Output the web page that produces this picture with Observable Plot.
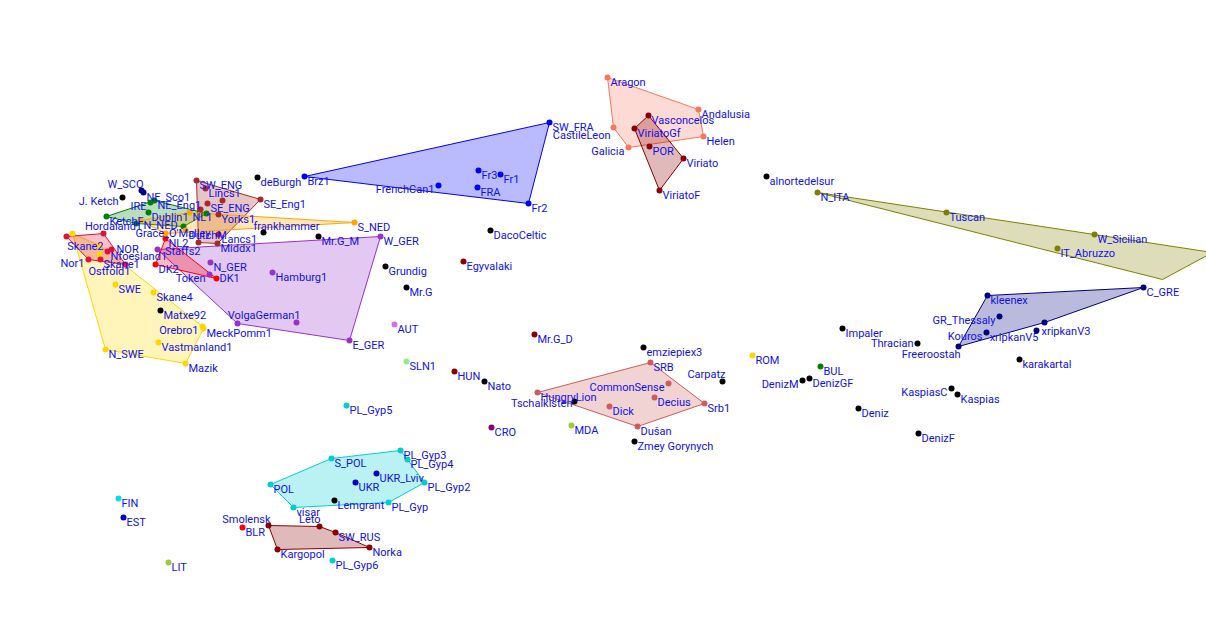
<!DOCTYPE html>
<html><head><meta charset="utf-8">
<script src="https://cdn.jsdelivr.net/npm/d3@7"></script>
<script src="https://cdn.jsdelivr.net/npm/@observablehq/plot@0.6"></script>
<style>html,body{margin:0;padding:0;background:#fff;overflow:hidden}</style>
</head><body><div id="chart"></div>
<script>
// Each row: [sample name, PC1, PC2] (units x1000). "" = unlabeled sample, null = hidden sample (hull only)
const spain = [["Aragon",7,243],["Andalusia",98,211],["Helen",103,184],["Galicia",28,173],["CastileLeon",13,193]];
const portugal = [["Vasconcelos",48,205],["ViriatoGf",34,192],["POR",49,174],["Viriato",83,162],["ViriatoF",59,130]];
const france = [["SW_FRA",-51,198],["Brz1",-296,144],["FrenchCan1",-162,135],["Fr3",-122,150],["Fr1",-100,146],["FRA",-123,133],["Fr2",-72,117]];
const italy = [["N_ITA",217,128],["Tuscan",346,108],["W_Sicilian",494,86],["IT_Abruzzo",457,72],[null,612,68],[null,562,41]];
const greece = [["kleenex",387,25],["C_GRE",543,33],["GR_Thessaly",399,4],["Kouros",386,-12],["xripkanV5",444,-2],["Freeroostah",358,-26]];
const serbia = [["SRB",50,-42],["CommonSense",68,-63],["Decius",54,-77],["Srb1",104,-83],["Dick",9,-86],["Dušan",37,-106],["HungryLion",-63,-72]];
const poland = [["PL_Gyp3",-200,-130],["PL_Gyp4",-193,-139],["PL_Gyp2",-176,-162],["PL_Gyp",-212,-182],["visar",-307,-187],["POL",-330,-164],["S_POL",-269,-138]];
const russia = [["Smolensk",-332,-205],["Leto",-281,-206],["SW_RUS",-265,-212],["Norka",-231,-227],["Kargopol",-323,-229]];
const germany = [["W_GER",-220,84],["E_GER",-251,-20],["Hamburg1",-328,48],["N_GER",-390,58],["Token",-391,46],["VolgaGerman1",-304,-2],["",-363,-3],["",-443,71]];
const sweden = [["",-528,87],["Skane2",-501,75],["",-501,66],["SWE",-485,36],["Skane4",-447,28],["Orebro1",-398,-6],["MeckPomm1",-397,-8],["Vastmanland1",-442,-22],["N_SWE",-495,-29],["Mazik",-415,-43]];
const norway = [["",-534,84],["Hordaland1",-497,87],["NOR",-489,71],["Nfoesland1",-493,69],["Nor1",-512,61],["Skane1",-500,61],["Ostfold1",-475,56]];
const denmark = [["NL2",-435,82],["DK2",-445,56],["DK1",-384,42]];
const england = [["SW_ENG",-404,140],["Lincs1",-395,132],["SE_ENG",-393,117],["",-378,120],["SE_Eng1",-340,121],["Yorks1",-382,106],["",-400,111],["Lancs1",-382,86],["Middx1",-383,77],["Staffs2",-402,78]];
const ireland = [["KetchF",-494,104],["IRE",-450,118],["NE_Eng1",-446,120],["Dublin1",-452,108],["Grace_O'Malley",-464,97],["",-394,107],["",-417,94]];
const netherlands = [["S_NED",-246,98],["NL1",-411,108],["N_NED",-460,100],["DutchM",-415,90],["",-435,87]];
const scotland = [["W_SCO",-459,130],["NE_Sco1",-457,128]];
const individuals = [["alnortedelsur",166,144],["Impaler",242,-8],["Thracian",317,-23],["karakartal",419,-39],["KaspiasC",351,-68],["Kaspias",357,-74],
  ["DenizM",202,-60],["DenizGF",209,-58],["Deniz",258,-88],["DenizF",318,-113],["Carpatz",122,-61],["emziepiex3",43,-27],["Zmey Gorynych",34,-121],
  ["Tschaikisten",-26,-81],["Nato",-116,-61],["DacoCeltic",-110,90],["Grundig",-215,54],["Mr.G",-194,33],["Mr.G_M",-282,84],["frankhammer",-337,88],
  ["deBurgh",-343,143],["J. Ketch",-478,123],["Matxe92",-440,10],["Lemgrant",-266,-180]];
const singles = [["BUL",220,-46,"green"],["ROM",152,-35,"gold"],["SLN1",-194,-41,"lightgreen"],["AUT",-206,-4,"orchid"],["CRO",-109,-107,"purple"],
  ["MDA",-29,-105,"yellowgreen"],["LIT",-432,-242,"yellowgreen"],["FIN",-482,-178,"#00e0f0"],["EST",-477,-197,"mediumblue"],["BLR",-358,-207,"red"],
  ["HUN",-146,-51,"darkred"],["Mr.G_D",-66,-14,"darkred"],["Egyvalaki",-137,59,"darkred"],["PL_Gyp5",-254,-85,"darkturquoise"],["PL_Gyp6",-268,-240,"darkturquoise"],
  ["UKR",-245,-162,"mediumblue"],["UKR_Lviv",-224,-153,"mediumblue"],["xripkanV3",436,-10,"navy"]];

// group styles
const groupStyle = [
  ["spain", spain, "#f7775e", true], ["portugal", portugal, "darkred", true], ["france", france, "blue", true],
  ["italy", italy, "olive", true], ["greece", greece, "navy", true], ["serbia", serbia, "indianred", true],
  ["poland", poland, "darkturquoise", true], ["russia", russia, "darkred", true], ["germany", germany, "darkorchid", true],
  ["sweden", sweden, "gold", true], ["norway", norway, "crimson", true], ["denmark", denmark, "red", true],
  ["england", england, "brown", true], ["ireland", ireland, "green", true], ["netherlands", netherlands, "orange", true],
  ["scotland", scotland, "navy", false], ["individuals", individuals, "black", false]
];

const points = [];
for (const [g, rows, color, hull] of groupStyle)
  for (const [name, pc1, pc2] of rows) points.push({name, group: g, pc1, pc2, color, hull});
for (const [name, pc1, pc2, color] of singles) points.push({name, group: name, pc1, pc2, color, hull: false});

// label placement styles: [dx, dy, textAnchor]
const L = [-4, 4, "end"];
const labelPlace = {
  "Galicia": L, "CastileLeon": [-3, 8, "end"], "FrenchCan1": L, "GR_Thessaly": L, "Kouros": L, "Thracian": [-4, 0, "end"],
  "KaspiasC": L, "DenizM": L, "CommonSense": L, "Tschaikisten": [-2, 2, "end"], "J. Ketch": L, "IRE": L, "Skane2": [4, 1, "end"],
  "Nor1": L, "Token": L, "Orebro1": L,
  "Hordaland1": [10, -7, "middle"], "NOR": [5, 0, "start"], "Ostfold1": [5, 7, "end"], "Carpatz": [3, -7, "end"],
  "frankhammer": [-10, -6, "start"], "Freeroostah": [2, 8, "end"], "xripkanV5": [-6, 15, "end"], "xripkanV3": [5, 1, "start"],
  "VolgaGerman1": [4, -7, "end"], "Smolensk": [2, -6, "end"], "Leto": [1, -7, "end"], "Staffs2": [2, 9, "end"],
  "Grace_O'Malley": [-1, 10, "start"], "W_SCO": [2, -6, "end"], "DK1": [3, 0, "start"]
};
const DEF = [3, 5, "start"];

const labeled = points.filter(d => d.name);
const placeGroups = d3.groups(labeled, d => (labelPlace[d.name] || DEF).join("|"));
const textMarks = placeGroups.map(([key, rows]) => {
  const [dx, dy, anchor] = key.split("|");
  return Plot.text(rows, {x: "pc1", y: "pc2", text: "name", dx: +dx, dy: +dy, textAnchor: anchor,
    fill: "#1010f0", fontSize: 11, fontFamily: "Roboto, 'Open Sans', sans-serif"});
});

const chart = Plot.plot({
  width: 1206, height: 641, margin: 0,
  x: {domain: [-600, 606], axis: null},
  y: {domain: [-321, 320], axis: null},
  color: {type: "identity"},
  style: {background: "white", overflow: "hidden"},
  marks: [
    Plot.hull(points.filter(d => d.hull), {x: "pc1", y: "pc2", z: "group", fill: "color", fillOpacity: 0.27, stroke: "color", strokeWidth: 1}),
    Plot.dot(points.filter(d => d.name !== null), {x: "pc1", y: "pc2", r: 3, fill: "color"}),
    ...textMarks
  ]
});
document.getElementById("chart").append(chart);
</script></body></html>
